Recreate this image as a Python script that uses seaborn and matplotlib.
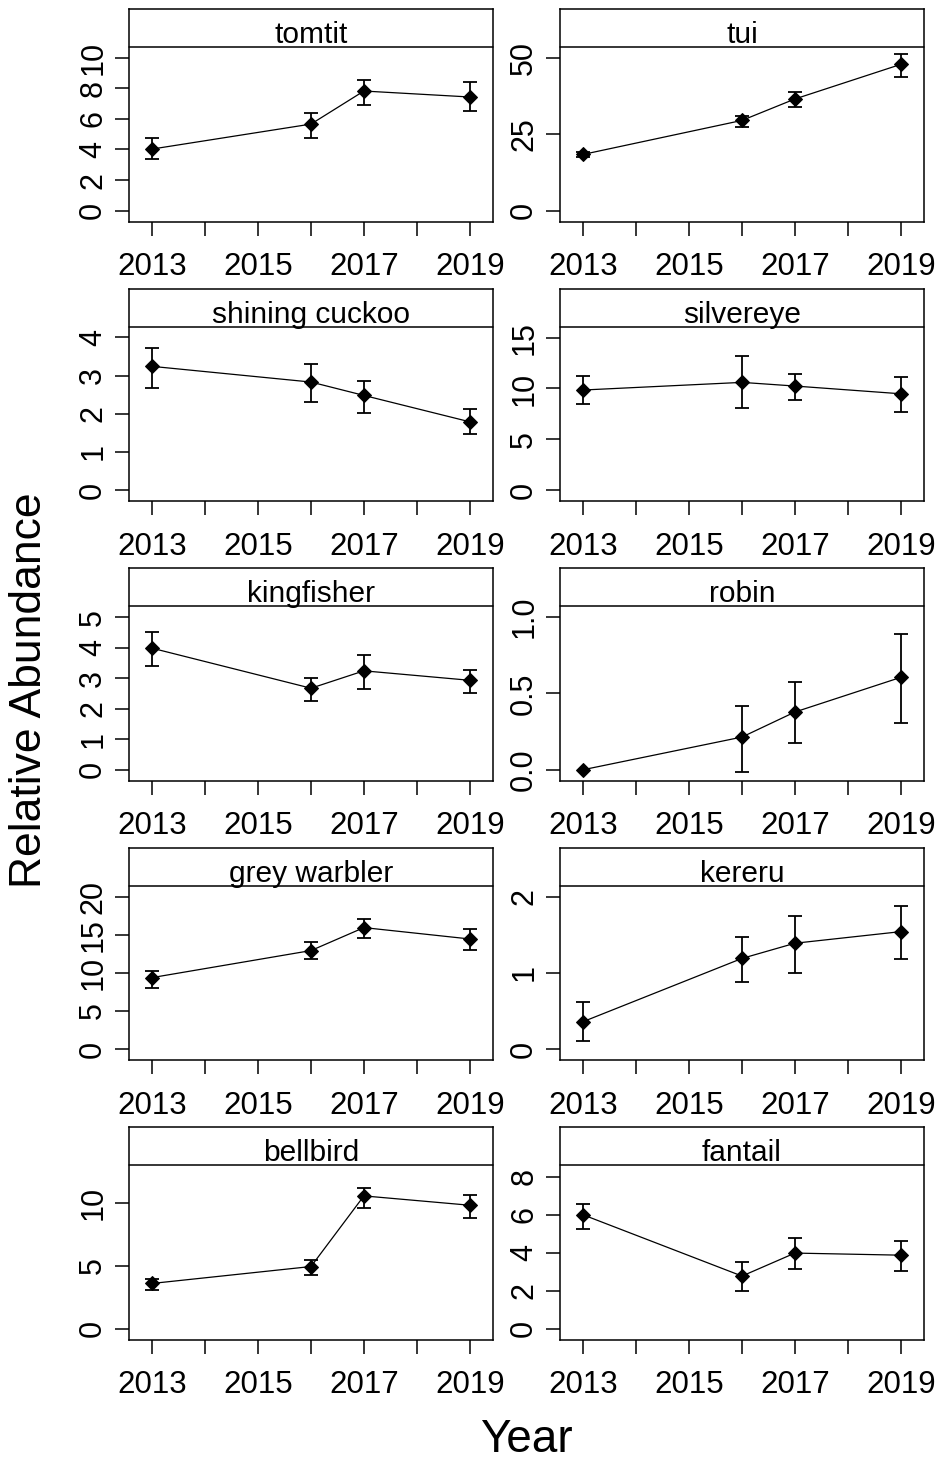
import numpy as np
import pandas as pd
import matplotlib
matplotlib.use("Agg")
import matplotlib.pyplot as plt
import seaborn as sns

# Survey years and species, in panel order (left-to-right, top-to-bottom)
years = [2013, 2016, 2017, 2019]
species = ["tomtit", "tui", "shining cuckoo", "silvereye", "kingfisher",
           "robin", "grey warbler", "kereru", "bellbird", "fantail"]

# Mean relative abundance per year
abundance = {
    "tomtit":         [4.03, 5.66, 7.82, 7.43],
    "tui":            [18.4, 29.5, 36.5, 47.8],
    "shining cuckoo": [3.24, 2.83, 2.48, 1.79],
    "silvereye":      [9.85, 10.6, 10.24, 9.48],
    "kingfisher":     [3.98, 2.67, 3.24, 2.93],
    "robin":          [0.0, 0.214, 0.378, 0.605],
    "grey warbler":   [9.39, 12.93, 15.94, 14.45],
    "kereru":         [0.362, 1.19, 1.389, 1.541],
    "bellbird":       [3.59, 4.93, 10.53, 9.79],
    "fantail":        [5.99, 2.77, 3.98, 3.87],
}

# Lower and upper bounds of the error bars
lower = {
    "tomtit":         [3.36, 4.77, 6.88, 6.51],
    "tui":            [17.6, 27.3, 33.8, 43.7],
    "shining cuckoo": [2.67, 2.31, 2.01, 1.46],
    "silvereye":      [8.47, 8.10, 8.86, 7.71],
    "kingfisher":     [3.40, 2.25, 2.64, 2.51],
    "robin":          [0.0, -0.015, 0.172, 0.308],
    "grey warbler":   [8.03, 11.83, 14.63, 13.06],
    "kereru":         [0.105, 0.878, 1.004, 1.188],
    "bellbird":       [3.09, 4.27, 9.58, 8.81],
    "fantail":        [5.25, 2.01, 3.13, 3.03],
}
upper = {
    "tomtit":         [4.77, 6.36, 8.52, 8.41],
    "tui":            [19.2, 31.0, 38.9, 51.3],
    "shining cuckoo": [3.71, 3.31, 2.87, 2.12],
    "silvereye":      [11.26, 13.16, 11.45, 11.09],
    "kingfisher":     [4.52, 3.00, 3.76, 3.28],
    "robin":          [0.0, 0.42, 0.572, 0.889],
    "grey warbler":   [10.30, 14.06, 17.03, 15.76],
    "kereru":         [0.624, 1.476, 1.751, 1.878],
    "bellbird":       [3.96, 5.46, 11.19, 10.61],
    "fantail":        [6.55, 3.50, 4.75, 4.64],
}

# Y-axis tick values per panel
y_ticks = {
    "tomtit":         [0, 2, 4, 6, 8, 10],
    "tui":            [0, 25, 50],
    "shining cuckoo": [0, 1, 2, 3, 4],
    "silvereye":      [0, 5, 10, 15],
    "kingfisher":     [0, 1, 2, 3, 4, 5],
    "robin":          [0.0, 0.5, 1.0],
    "grey warbler":   [0, 5, 10, 15, 20],
    "kereru":         [0, 1, 2],
    "bellbird":       [0, 5, 10],
    "fantail":        [0, 2, 4, 6, 8],
}
y_fmt = {"robin": "{:.1f}"}

# Value at the top edge of each panel box
y_top = {
    "tomtit": 13.16, "tui": 65.8, "shining cuckoo": 5.27, "silvereye": 19.8,
    "kingfisher": 6.6, "robin": 1.32, "grey warbler": 26.4, "kereru": 2.64,
    "bellbird": 15.97, "fantail": 10.6,
}

x_ticks = list(range(2013, 2020))
x_labels = [str(y) if y % 2 == 1 else "" for y in x_ticks]

sns.set_theme(style="white")
plt.rcParams["font.family"] = ["Liberation Sans", "DejaVu Sans"]

W, H = 937, 1463
fig = plt.figure(figsize=(W / 100, H / 100), dpi=100)
fig.patch.set_facecolor("white")

col_left = [129, 560]
box_w = 364
row_top = [9.3, 288.8, 568.3, 847.8, 1127.3]
box_h = 212.4
strip_h = 38.0
zero_off = 11.0  # pixels between box bottom and the zero line

for i, sp in enumerate(species):
    r, c = divmod(i, 2)
    ax = fig.add_axes([col_left[c] / W, 1 - (row_top[r] + box_h) / H,
                       box_w / W, box_h / H])
    m = np.array(abundance[sp])
    lo = np.array(lower[sp])
    hi = np.array(upper[sp])
    yrs = np.array(years)

    has_bar = hi > lo
    ax.errorbar(yrs[has_bar], m[has_bar],
                yerr=[m[has_bar] - lo[has_bar], hi[has_bar] - m[has_bar]],
                fmt="none", ecolor="black", elinewidth=1.3,
                capsize=4.7, capthick=1.3, zorder=2)

    df = pd.DataFrame({"Year": years, "Abundance": abundance[sp]})
    sns.lineplot(data=df, x="Year", y="Abundance", ax=ax, color="black",
                 linewidth=0.9, marker="D", markersize=7,
                 markeredgecolor="black", markerfacecolor="black", zorder=3)

    top = y_top[sp]
    bottom = -top * zero_off / (box_h - zero_off)
    ax.set_ylim(bottom, top)
    ax.set_xlim(2012.56, 2019.44)

    ax.set_xticks(x_ticks)
    ax.set_xticklabels(x_labels)
    ticks = y_ticks[sp]
    fmt = y_fmt.get(sp, "{:g}")
    ax.set_yticks(ticks)
    ax.set_yticklabels([fmt.format(t) for t in ticks])

    ax.set_xlabel("")
    ax.set_ylabel("")
    ax.tick_params(axis="both", which="both", direction="out", length=10,
                   width=1.1, color="black", labelcolor="black",
                   bottom=True, left=True)
    ax.tick_params(axis="x", labelsize=22.5, pad=12)
    ax.tick_params(axis="y", labelsize=22, pad=5, labelrotation=90)
    for lab in ax.get_yticklabels():
        lab.set_va("center")
    for s in ax.spines.values():
        s.set_color("black")
        s.set_linewidth(1.1)

    # strip header with species name
    sf = 1 - strip_h / box_h
    ax.plot([0, 1], [sf, sf], transform=ax.transAxes, color="black",
            linewidth=1.1, clip_on=False, zorder=4)
    ax.text(0.5, 1 - 34.0 / box_h, sp, transform=ax.transAxes,
            ha="center", va="baseline", fontsize=21.5, color="black")

fig.text(30 / W, 1 - 690 / H, "Relative Abundance", rotation=90,
         ha="center", va="center", fontsize=32, color="black")
fig.text(526 / W, 1 / H, "Year", ha="center", va="bottom",
         fontsize=33, color="black")

fig.savefig("out.png", dpi=100, facecolor="white")
